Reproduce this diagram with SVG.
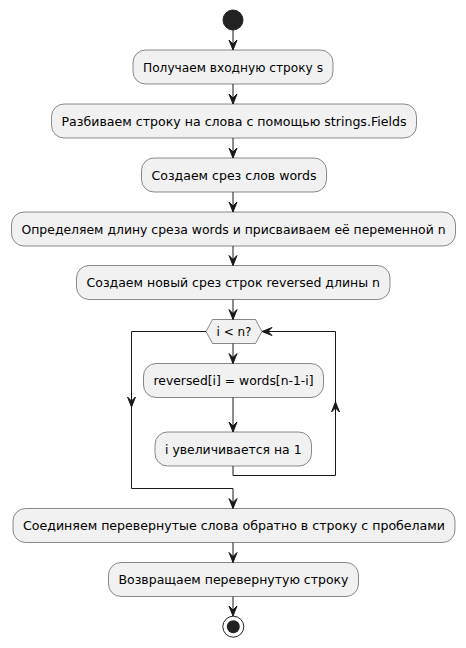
<svg xmlns="http://www.w3.org/2000/svg" width="466" height="648" viewBox="0 0 466 648">
<defs>
<style>
.box{fill:#F1F1F1;stroke:#181818;stroke-width:0.5}
.t{font-family:"DejaVu Sans","Liberation Sans",sans-serif;font-size:12px;fill:#000000;text-anchor:middle}
.ln{fill:none;stroke:#181818;stroke-width:1}
.ah{fill:#181818;stroke:#181818;stroke-width:1}
</style>
</defs>
<rect width="466" height="648" fill="#FFFFFF"/>
<g id="start"><circle cx="233" cy="20" r="10" fill="#222222" stroke="#222222"/></g>
<g id="n1"><rect class="box" x="133" y="50" width="200" height="34" rx="12.5"/><text class="t" x="233" y="71.5" textLength="180" lengthAdjust="spacingAndGlyphs">Получаем входную строку s</text></g>
<g id="n2"><rect class="box" x="51.5" y="104" width="365" height="34" rx="12.5"/><text class="t" x="234" y="125.5" textLength="345" lengthAdjust="spacingAndGlyphs">Разбиваем строку на слова с помощью strings.Fields</text></g>
<g id="n3"><rect class="box" x="141.5" y="158" width="185" height="34" rx="12.5"/><text class="t" x="234" y="179.5" textLength="165" lengthAdjust="spacingAndGlyphs">Создаем срез слов words</text></g>
<g id="n4"><rect class="box" x="11.5" y="212" width="444" height="34" rx="12.5"/><text class="t" x="233.5" y="233.5" textLength="424" lengthAdjust="spacingAndGlyphs">Определяем длину среза words и присваиваем её переменной n</text></g>
<g id="n5"><rect class="box" x="76.5" y="265.5" width="313.5" height="34" rx="12.5"/><text class="t" x="233.3" y="287" textLength="293.5" lengthAdjust="spacingAndGlyphs">Создаем новый срез строк reversed длины n</text></g>
<g id="d1"><polygon class="box" points="206,331.5 212.5,319.5 255.5,319.5 262,331.5 255.5,343.5 212.5,343.5"/><text class="t" x="234" y="335.8">i &lt; n?</text></g>
<g id="n6"><rect class="box" x="143.5" y="363.5" width="180" height="34" rx="12.5"/><text class="t" x="233.5" y="385" textLength="160" lengthAdjust="spacingAndGlyphs">reversed[i] = words[n-1-i]</text></g>
<g id="n7"><rect class="box" x="155" y="432" width="156.5" height="34" rx="12.5"/><text class="t" x="233.3" y="453.5" textLength="136.5" lengthAdjust="spacingAndGlyphs">i увеличивается на 1</text></g>
<g id="n8"><rect class="box" x="13" y="508.5" width="442" height="34" rx="12.5"/><text class="t" x="234" y="530" textLength="422" lengthAdjust="spacingAndGlyphs">Соединяем перевернутые слова обратно в строку с пробелами</text></g>
<g id="n9"><rect class="box" x="108.5" y="562.5" width="250" height="34" rx="12.5"/><text class="t" x="233.5" y="584" textLength="230" lengthAdjust="spacingAndGlyphs">Возвращаем перевернутую строку</text></g>
<g id="end"><circle cx="233.3" cy="626.7" r="10.5" fill="none" stroke="#222222" stroke-width="1"/><circle cx="233.3" cy="626.7" r="6.5" fill="#222222"/></g>
<g id="connectors">
<line class="ln" x1="233" y1="30" x2="233" y2="50"/>
<polygon class="ah" points="229,40 233,50 237,40 233,44"/>
<line class="ln" x1="233" y1="84" x2="233" y2="104"/>
<polygon class="ah" points="229,94 233,104 237,94 233,98"/>
<line class="ln" x1="233" y1="138" x2="233" y2="158"/>
<polygon class="ah" points="229,148 233,158 237,148 233,152"/>
<line class="ln" x1="233" y1="192" x2="233" y2="212"/>
<polygon class="ah" points="229,202 233,212 237,202 233,206"/>
<line class="ln" x1="233" y1="246" x2="233" y2="265.5"/>
<polygon class="ah" points="229,255.5 233,265.5 237,255.5 233,259.5"/>
<line class="ln" x1="233" y1="299.5" x2="233" y2="319.5"/>
<polygon class="ah" points="229,309.5 233,319.5 237,309.5 233,313.5"/>
<line class="ln" x1="233" y1="343.5" x2="233" y2="363.5"/>
<polygon class="ah" points="229,353.5 233,363.5 237,353.5 233,357.5"/>
<line class="ln" x1="233" y1="397.5" x2="233" y2="432"/>
<polygon class="ah" points="229,422 233,432 237,422 233,426"/>
<polyline class="ln" points="233,466 233,475.5 335.5,475.5 335.5,331.5 262,331.5"/>
<polygon class="ah" points="335.5,402 331.5,412 335.5,408 339.5,412"/>
<polygon class="ah" points="262,331.5 272,327.5 268,331.5 272,335.5"/>
<polyline class="ln" points="206,331.5 131.5,331.5 131.5,488.5 233,488.5 233,508.5"/>
<polygon class="ah" points="127.5,397 131.5,407 135.5,397 131.5,401"/>
<polygon class="ah" points="229,498.5 233,508.5 237,498.5 233,502.5"/>
<line class="ln" x1="233" y1="542.5" x2="233" y2="562.5"/>
<polygon class="ah" points="229,552.5 233,562.5 237,552.5 233,556.5"/>
<line class="ln" x1="233" y1="596.5" x2="233" y2="616"/>
<polygon class="ah" points="229,606 233,616 237,606 233,610"/>
</g>
</svg>
